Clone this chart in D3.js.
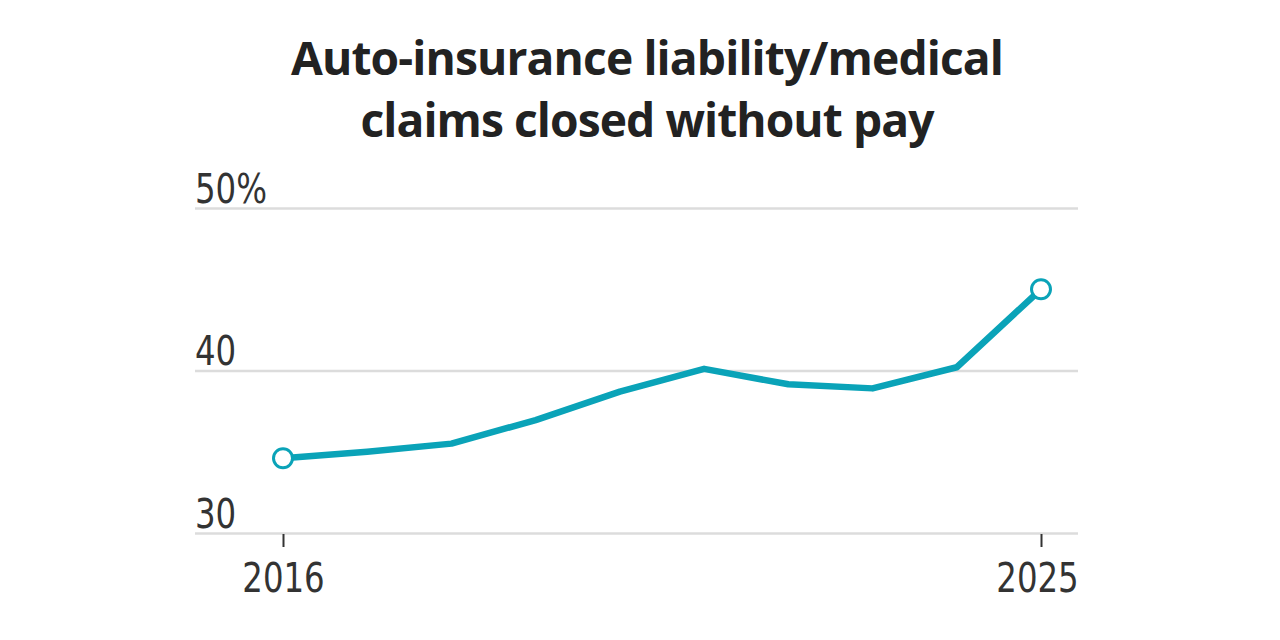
<!DOCTYPE html>
<html>
<head>
<meta charset="utf-8">
<script src="https://cdn.jsdelivr.net/npm/d3@7"></script>
<style>
  body { margin: 0; background: #fff; }
  svg { display: block; }
</style>
</head>
<body>
<div class="chart"></div>
<script>
// share of auto liability/medical claims closed without payment, in %
const years = [2016, 2017, 2018, 2019, 2020, 2021, 2022, 2023, 2024, 2025];
const closedWithoutPay = [34.6, 35.0, 35.5, 36.95, 38.7, 40.1, 39.15, 38.9, 40.2, 45.0];
const yTicks = [30, 40, 50];
const xTicks = [2016, 2025];
const titleLines = ['Auto-insurance liability/medical', 'claims closed without pay'];

const width = 1280;
const height = 640;
const teal = '#0aa3b8';
const narrow = '"Liberation Sans Narrow", "DejaVu Sans Condensed", "Roboto", sans-serif';

const svg = d3.select('.chart')
  .append('svg')
  .attr('width', width)
  .attr('height', height);

// title, fitted to the reference line widths
const titleWidths = [713, 574];
const titleBase = [75, 137];
titleLines.forEach((line, i) => {
  const t = svg.append('text')
    .attr('x', 647)
    .attr('y', titleBase[i])
    .attr('text-anchor', 'middle')
    .style('font-family', '"Open Sans", "Noto Sans", sans-serif')
    .style('font-weight', 700)
    .style('font-size', '48px')
    .style('fill', '#222')
    .text(line);
  // shrink a bit by size, the rest by spacing
  let w = t.node().getComputedTextLength();
  const size = 48 * Math.sqrt(titleWidths[i] / w);
  t.style('font-size', size + 'px');
  w = t.node().getComputedTextLength();
  t.style('letter-spacing', ((titleWidths[i] - w) / (line.length - 1)) + 'px');
});

const xScale = d3.scaleLinear()
  .domain([2016, 2025])
  .range([283, 1041]);

const yScale = d3.scaleLinear()
  .domain([30, 50])
  .range([533, 208]);

const gridLeft = 195;
const gridRight = 1078;

// squeeze label glyphs to look condensed
function condense(sel, factor) {
  sel.each(function () {
    const w = this.getComputedTextLength();
    d3.select(this)
      .attr('textLength', w * factor)
      .attr('lengthAdjust', 'spacingAndGlyphs');
  });
}

// gridlines + y labels
const yAxis = d3.axisLeft(yScale)
  .tickValues(yTicks)
  .tickSize(-(gridRight - gridLeft))
  .tickFormat(d => d === 50 ? d + '%' : d);

const gy = svg.append('g')
  .attr('transform', `translate(${gridRight}, 0)`)
  .call(yAxis);
gy.select('.domain').remove();
gy.selectAll('.tick line')
  .attr('x1', 0)
  .attr('x2', -(gridRight - gridLeft))
  .attr('stroke', '#dcdcdc')
  .attr('stroke-width', 2.5);
gy.selectAll('.tick text')
  .attr('x', -(gridRight - gridLeft))
  .attr('dy', -6)
  .attr('text-anchor', 'start')
  .style('font-family', narrow)
  .style('font-size', '40px')
  .style('font-weight', 300)
  .style('fill', '#333')
  .call(condense, 0.9);

// x axis
const xAxis = d3.axisBottom(xScale)
  .tickValues(xTicks)
  .tickSize(13)
  .tickPadding(13)
  .tickFormat(d3.format('d'));

const gx = svg.append('g')
  .attr('transform', `translate(0, 534)`)
  .call(xAxis);
gx.select('.domain').remove();
gx.selectAll('.tick line')
  .attr('stroke', '#333')
  .attr('stroke-width', 2);
gx.selectAll('.tick text')
  .attr('dy', '0.8em')
  .style('font-family', narrow)
  .style('font-size', '40px')
  .style('font-weight', 300)
  .style('fill', '#333')
  .call(condense, 0.9);
// last year label sits a touch left of its tick in the reference
gx.selectAll('.tick text')
  .filter(d => d === 2025)
  .attr('x', -4);

// line
const data = years.map((y, i) => [y, closedWithoutPay[i]]);
const lineGenerator = d3.line()
  .x(d => xScale(d[0]))
  .y(d => yScale(d[1]));

svg.append('path')
  .attr('fill', 'none')
  .attr('stroke', teal)
  .attr('stroke-width', 6.5)
  .attr('stroke-linejoin', 'round')
  .attr('d', lineGenerator(data));

// endpoint markers
svg.selectAll('.endpoint')
  .data([data[0], data[data.length - 1]])
  .enter()
  .append('circle')
  .attr('class', 'endpoint')
  .attr('cx', d => xScale(d[0]))
  .attr('cy', d => yScale(d[1]))
  .attr('r', 9.5)
  .attr('fill', '#fff')
  .attr('stroke', teal)
  .attr('stroke-width', 3);
</script>
</body>
</html>
